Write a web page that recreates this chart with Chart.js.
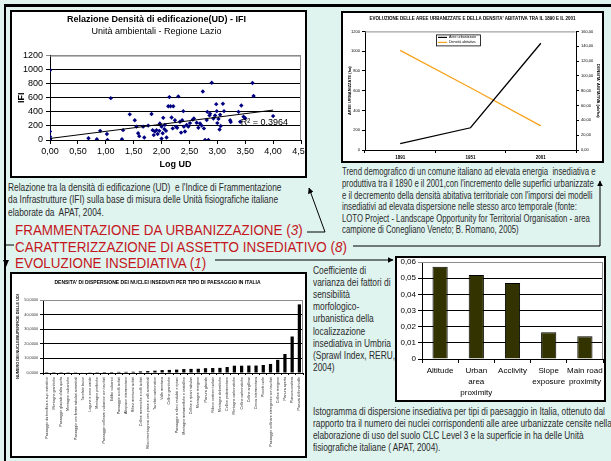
<!DOCTYPE html>
<html>
<head>
<meta charset="utf-8">
<script src="https://cdn.jsdelivr.net/npm/chart.js@4.4.1/dist/chart.umd.min.js"></script>
<style>
  html, body { margin: 0; padding: 0; }
  body {
    width: 611px; height: 461px; position: relative; overflow: hidden;
    background: #dff3ef;
    font-family: "Liberation Sans", Arial, sans-serif;
  }
  .box { position: absolute; background: #fff; border: 2px solid #000; box-sizing: border-box; }
  .box canvas { position: absolute; left: 0; top: 0; }
  .t {
    position: absolute; white-space: nowrap; color: #2b2b2b;
    font-size: 10.5px; line-height: 12px; height: 12px;
    transform-origin: 0 50%; transform: scaleX(0.795);
  }
  .t.s { font-size: 10px; transform: scaleX(0.775); }
  .t.c { font-size: 10.5px; transform: scaleX(0.8); }
  .t.b { font-size: 10.5px; transform: scaleX(0.79); }
  .h {
    position: absolute; white-space: nowrap; color: #c4161c;
    font-size: 15px; line-height: 16px; height: 16px;
    transform-origin: 0 50%; transform: scaleX(0.895);
  }
  svg { position: absolute; left: 0; top: 0; }
</style>
</head>
<body>

<!-- connectors and frame -->
<svg width="611" height="461">
  <defs>
    <marker id="ah" viewBox="0 0 10 10" refX="9" refY="5" markerWidth="6" markerHeight="6" orient="auto">
      <path d="M0,0 L10,5 L0,10 z" fill="#000"/>
    </marker>
  </defs>
  <rect x="5" y="4" width="606" height="3" fill="#000"/>
  <rect x="4" y="4" width="2" height="457" fill="#000"/>
  <line x1="5" y1="245" x2="14" y2="245" stroke="#000" stroke-width="1"/>
  <polygon points="3,260 9,260 6,267" fill="#000"/>
  <polyline points="307,232 325,232 309,188" fill="none" stroke="#000" stroke-width="1" marker-end="url(#ah)"/>
  <polyline points="353,246 600,246 600,181" fill="none" stroke="#000" stroke-width="1" marker-end="url(#ah)"/>
  <line x1="215" y1="260" x2="393" y2="260" stroke="#000" stroke-width="1" marker-end="url(#ah)"/>
</svg>

<div class="box" style="left:10px;top:10px;width:297px;height:168px;"><canvas id="cScatter" width="293" height="164"></canvas></div>
<div class="box" style="left:341px;top:11px;width:263px;height:152px;"><canvas id="cTrend" width="259" height="148"></canvas></div>
<div class="box" style="left:10px;top:272px;width:297px;height:186px;"><canvas id="cDisp" width="293" height="182"></canvas></div>
<div class="box" style="left:395px;top:256px;width:211px;height:146px;"><canvas id="cVar" width="207" height="142"></canvas></div>

<div class="t" style="left:8px;top:181px;">Relazione tra la densità di edificazione (UD)&nbsp; e l'Indice di Frammentazione</div>
<div class="t" style="left:8px;top:193px;">da Infrastrutture (IFI) sulla base di misura delle Unità fisiografiche italiane</div>
<div class="t" style="left:8px;top:206px;">elaborate da&nbsp; APAT, 2004.</div>

<div class="t s" style="left:342px;top:166px;">Trend demografico di un comune italiano ad elevata energia&nbsp; insediativa e</div>
<div class="t s" style="left:342px;top:178px;">produttiva tra il 1890 e il 2001,con l'incremento delle superfici urbanizzate</div>
<div class="t s" style="left:342px;top:190px;">e il decremento della densità abitativa territoriale con l'imporsi dei modelli</div>
<div class="t s" style="left:342px;top:201px;">insediativi ad elevata dispersione nelle stesso arco temporale (fonte:</div>
<div class="t s" style="left:342px;top:213px;">LOTO Project - Landscape Opportunity for Territorial Organisation - area</div>
<div class="t s" style="left:342px;top:224px;">campione di Conegliano Veneto; B. Romano, 2005)</div>

<div class="h" style="left:15px;top:222px;">FRAMMENTAZIONE DA URBANIZZAZIONE (<i>3</i>)</div>
<div class="h" style="left:15px;top:239px;">CARATTERIZZAZIONE DI ASSETTO INSEDIATIVO (<i>8</i>)</div>
<div class="h" style="left:15px;top:255px;">EVOLUZIONE INSEDIATIVA (<i>1</i>)</div>

<div class="t c" style="left:313px;top:264px;">Coefficiente di</div>
<div class="t c" style="left:313px;top:276px;">varianza dei fattori di</div>
<div class="t c" style="left:313px;top:288px;">sensibilità</div>
<div class="t c" style="left:313px;top:300px;">morfologico-</div>
<div class="t c" style="left:313px;top:312px;">urbanistica della</div>
<div class="t c" style="left:313px;top:325px;">localizzazione</div>
<div class="t c" style="left:313px;top:337px;">insediativa in Umbria</div>
<div class="t c" style="left:313px;top:349px;">(Sprawl Index, RERU,</div>
<div class="t c" style="left:313px;top:361px;">2004)</div>

<div class="t b" style="left:313px;top:405px;">Istogramma di dispersione insediativa per tipi di paesaggio in Italia, ottenuto dal</div>
<div class="t b" style="left:313px;top:417px;">rapporto tra il numero dei nuclei corrispondenti alle aree urbanizzate censite nella</div>
<div class="t b" style="left:313px;top:429px;">elaborazione di uso del suolo CLC Level 3 e la superficie in ha delle Unità</div>
<div class="t b" style="left:313px;top:441px;">fisiografiche italiane ( APAT, 2004).</div>

<script>
// ---- Relazione UD - IFI (Lazio) ----
const logUD = [0.00, 0.00, 0.00, 0.00, 0.00, 0.00, 0.00, 0.69, 0.84, 0.90, 1.02, 1.03, 1.09, 1.29, 1.31,
  1.43, 1.52, 1.55, 1.58, 1.60, 1.67, 1.69, 1.76, 1.82, 1.84, 1.86, 1.88, 1.91, 1.93, 1.96,
  1.97, 2.00, 2.00, 2.02, 2.03, 2.05, 2.06, 2.08, 2.09, 2.12, 2.14, 2.16, 2.18, 2.20, 2.21,
  2.24, 2.26, 2.28, 2.30, 2.33, 2.35, 2.37, 2.39, 2.40, 2.42, 2.45, 2.48, 2.51, 2.56, 2.58,
  2.63, 2.66, 2.69, 2.72, 2.74, 2.76, 2.78, 2.81, 2.82, 2.84, 2.86, 2.87, 2.90, 2.93, 2.96,
  2.98, 2.99, 3.00, 3.02, 3.04, 3.05, 3.06, 3.10, 3.12, 3.23, 3.24, 3.38, 3.41, 3.43, 3.47,
  3.50, 3.63, 3.65, 4.00];
const ifi = [990, 120, 48, 24, 8, 0, 0, 24, 10, 130, 85, 0, 595, 10, 140,
  365, 280, 190, 95, 55, 190, 35, 205, 370, 140, 70, 120, 140, 85, 130,
  235, 20, 190, 95, 315, 155, 215, 130, 35, 480, 610, 480, 320, 165, 480,
  280, 190, 175, 620, 260, 105, 280, 410, 190, 120, 215, 190, 240, 290, 305,
  245, 175, 235, 205, 690, 165, 0, 285, 400, 0, 350, 375, 815, 305, 350,
  510, 410, 240, 300, 150, 360, 200, 515, 410, 280, 255, 400, 260, 490, 330,
  310, 810, 625, 340];
const trendUD = [0, 4];
const trendIFI = [22, 425];
const r2Text = 'R² = 0.3964';

// ---- Evoluzione aree urbanizzate / densità abitativa ----
const anni = ['1891', '1951', '2001'];
const areeUrbanizzate = [65, 225, 1080];
const densitaAbitativa = [134.5, 84.0, 32.5];

// ---- Densità di dispersione per tipo di paesaggio ----
const paesaggi = [
  'Paesaggio da bonifica e sup. estrattive', 'Montagne granitiche', "Paesaggio glaciale d'alta quota",
  'Montagne vulcaniche', 'Paesaggio con forme tabulari sommitali', 'Tavolato lavico',
  'Lagune e zone umide', 'Montagne porfiriche', 'Paesaggio collinare vulcanico con tavolati',
  'Edifici vulcanici', 'Paesaggio a colli isolati', 'Altopiano intermontano',
  'Rilievi montuosi isolati', 'Colline moreniche e colli isolati', 'Rilievi montagnosi con piane e valli sommitali',
  'Tavolato carbonatico', 'Valle montana', 'Colline granitiche',
  'Paesaggio a rilievi ondulati e ripiani', 'Montagne metamorfiche e cristalline', 'Colline e ripiani tabulari',
  'Montagne terrigene', 'Pianura glaciale', 'Rilievo costiero isolato',
  'Montagne dolomitiche', 'Colline pedemontane', 'Montagne carbonatiche',
  'Colline carbonatiche', 'Colline argillose', 'Conca intermontana',
  'Piccole isole', 'Paesaggio collinare eterogeneo con tavolati', 'Colline terrigene',
  'Pianura aperta', 'Pianura costiera', 'Pianura di fondovalle'
];
const densitaNuclei = [0.05, 0.08, 0.10, 0.12, 0.15, 0.30, 0.50, 0.60, 0.65, 0.70, 0.75, 0.80,
  0.85, 1.10, 1.30, 1.60, 2.00, 2.10, 2.30, 2.70, 2.80, 2.90, 3.30, 3.40,
  3.50, 4.10, 5.00, 5.00, 5.10, 5.10, 5.50, 6.20, 9.00, 13.00, 25.00, 47.00];

// ---- Coefficiente di varianza (Umbria) ----
const fattori = ['Altitude', ['Urban', 'area', 'proximity'], 'Acclivity', ['Slope', 'exposure'], ['Main road', 'proximity']];
const coeffVarianza = [0.057, 0.052, 0.047, 0.0165, 0.014];

Chart.defaults.font.family = "'Liberation Sans', Arial, sans-serif";
Chart.defaults.color = '#000';
Chart.defaults.animation = false;

const comma = (v, d) => Number(v).toFixed(d).replace('.', ',');

// thin gray frame along the top (and optionally right) edge of the plot area
const plotFrame = {
  id: 'plotFrame',
  beforeDatasetsDraw(chart) {
    const a = chart.chartArea, ctx = chart.ctx;
    ctx.save();
    ctx.strokeStyle = '#8c8c8c';
    ctx.lineWidth = 1;
    ctx.beginPath();
    ctx.moveTo(a.left, a.top + 0.5);
    ctx.lineTo(a.right - 0.5, a.top + 0.5);
    if (chart.config.options.plugins.plotFrame && chart.config.options.plugins.plotFrame.right) {
      ctx.lineTo(a.right - 0.5, a.bottom);
    }
    ctx.stroke();
    ctx.restore();
  }
};

// ---- scatter chart ----
new Chart(document.getElementById('cScatter'), {
  type: 'scatter',
  data: {
    datasets: [
      {
        type: 'line',
        data: trendUD.map((x, i) => ({ x, y: trendIFI[i] })),
        borderColor: '#000', borderWidth: 1, pointRadius: 0, fill: false, order: 0
      },
      {
        data: logUD.map((x, i) => ({ x, y: ifi[i] })),
        backgroundColor: '#000080', borderColor: '#000080', borderWidth: 0,
        pointStyle: 'rectRot', pointRadius: 2.2, order: 1
      }
    ]
  },
  options: {
    responsive: false, devicePixelRatio: 1,
    layout: { padding: { left: 0, right: 4, top: 0, bottom: 0 } },
    plugins: {
      legend: { display: false }, tooltip: { enabled: false },
      plotFrame: { right: true },
      title: { display: true, text: 'Relazione Densità di edificazione(UD) - IFI',
        font: { size: 9, weight: 'bold' }, color: '#000', padding: { top: 2, bottom: 1 } },
      subtitle: { display: true, text: 'Unità ambientali - Regione Lazio',
        font: { size: 9 }, color: '#000', padding: { top: 0, bottom: 19 } }
    },
    scales: {
      x: {
        type: 'linear', min: 0, max: 4.5,
        ticks: { stepSize: 0.5, callback: v => comma(v, 2), font: { size: 9 }, padding: 2, maxRotation: 0, autoSkip: false },
        grid: { drawOnChartArea: false, color: '#000', tickLength: 4 },
        border: { color: '#000' },
        title: { display: true, text: 'Log UD', font: { size: 9, weight: 'bold' }, padding: { top: 0, bottom: 6 } },
        afterFit(s) { s.height = 36; s.paddingRight = 0; s.paddingLeft = 0; }
      },
      y: {
        min: 0, max: 1200,
        ticks: { stepSize: 200, font: { size: 9 }, padding: 3, callback: v => String(v) },
        grid: { color: ctx => ctx.tick && ctx.tick.value === 1200 ? '#8c8c8c' : '#000', tickLength: 4 },
        border: { color: '#000' },
        title: { display: true, text: 'IFI', font: { size: 9, weight: 'bold' }, padding: { top: 4, bottom: 0 } },
        afterFit(s) { s.width = 38; }
      }
    }
  },
  plugins: [plotFrame, {
    id: 'r2label',
    afterDatasetsDraw(chart) {
      const ctx = chart.ctx, xs = chart.scales.x, ys = chart.scales.y;
      ctx.save();
      ctx.font = "9px 'Liberation Sans', Arial, sans-serif";
      ctx.fillStyle = '#000';
      ctx.textBaseline = 'middle';
      ctx.fillText(r2Text, xs.getPixelForValue(3.42), ys.getPixelForValue(245));
      ctx.restore();
    }
  }]
});

// ---- dual-axis trend chart ----
const legendBox = {
  id: 'legendBox',
  afterDatasetsDraw(chart) {
    const ctx = chart.ctx, a = chart.chartArea;
    const x0 = a.left + 71, y0 = a.top + 3;
    ctx.save();
    ctx.font = "3.6px 'Liberation Sans', Arial, sans-serif";
    const sets = chart.data.datasets;
    const w = 44, h = 11;
    ctx.fillStyle = '#fff';
    ctx.fillRect(x0, y0, w, h);
    ctx.strokeStyle = '#000';
    ctx.lineWidth = 0.8;
    ctx.strokeRect(x0 + 0.5, y0 + 0.5, w, h);
    sets.forEach((ds, i) => {
      const yy = y0 + 3 + i * 5;
      ctx.strokeStyle = ds.borderColor;
      ctx.lineWidth = 1.2;
      ctx.beginPath(); ctx.moveTo(x0 + 2, yy); ctx.lineTo(x0 + 11, yy); ctx.stroke();
      ctx.fillStyle = '#000';
      ctx.textBaseline = 'middle';
      ctx.fillText(ds.label, x0 + 13, yy);
    });
    ctx.restore();
  }
};

new Chart(document.getElementById('cTrend'), {
  type: 'line',
  data: {
    labels: anni,
    datasets: [
      { label: 'Aree urbanizzate', data: areeUrbanizzate, yAxisID: 'y', borderColor: '#000',
        borderWidth: 1.3, pointRadius: 0, tension: 0 },
      { label: 'Densità abitativa', data: densitaAbitativa, yAxisID: 'y1', borderColor: '#f7a21b',
        borderWidth: 1.3, pointRadius: 0, tension: 0 }
    ]
  },
  options: {
    responsive: false, devicePixelRatio: 1,
    layout: { padding: 0 },
    plugins: {
      legend: { display: false }, tooltip: { enabled: false },
      plotFrame: { right: false },
      title: { display: true, text: "EVOLUZIONE DELLE AREE URBANIZZATE E DELLA DENSITA' ABITATIVA TRA IL 1890 E IL 2001",
        font: { size: 4.5, weight: 'bold' }, padding: { top: 3, bottom: 10 } }
    },
    scales: {
      x: {
        offset: true,
        ticks: { font: { size: 4.5, weight: 'bold' }, padding: 2, maxRotation: 0 },
        grid: { offset: true, drawOnChartArea: false, color: '#000', tickLength: 3 },
        border: { color: '#000' },
        afterFit(s) { s.height = 11; s.paddingLeft = 0; s.paddingRight = 0; }
      },
      y: {
        position: 'left', min: 0, max: 1200,
        ticks: { stepSize: 200, font: { size: 4 }, padding: 2, callback: v => String(v) },
        grid: { drawOnChartArea: false, color: '#000', tickLength: 3 },
        border: { color: '#000' },
        title: { display: true, text: 'AREE URBANIZZATE (ha)', font: { size: 4, weight: 'bold' }, padding: { top: 4.5, bottom: 0 } },
        afterFit(s) { s.width = 22; }
      },
      y1: {
        position: 'right', min: 0, max: 160,
        ticks: { stepSize: 20, font: { size: 4 }, padding: 2, callback: v => comma(v, 2) },
        grid: { drawOnChartArea: false, color: '#000', tickLength: 3 },
        border: { color: '#000' },
        title: { display: true, text: "DENSITA' ABITATIVA (ab/ha)", font: { size: 4, weight: 'bold' }, padding: { top: 1.6, bottom: 0 } },
        afterFit(s) { s.width = 26; }
      }
    }
  },
  plugins: [plotFrame, legendBox]
});

// ---- dispersion density by landscape type ----
new Chart(document.getElementById('cDisp'), {
  type: 'bar',
  data: {
    labels: paesaggi,
    datasets: [{ data: densitaNuclei, backgroundColor: '#000', borderWidth: 0,
      barPercentage: 0.45, categoryPercentage: 1 }]
  },
  options: {
    responsive: false, devicePixelRatio: 1,
    layout: { padding: { left: 0, right: 2, top: 0, bottom: 0 } },
    plugins: {
      legend: { display: false }, tooltip: { enabled: false },
      plotFrame: { right: true },
      title: { display: true, text: "DENSITA' DI DISPERSIONE DEI NUCLEI INSEDIATI PER TIPO DI PAESAGGIO IN ITALIA",
        font: { size: 5, weight: 'bold' }, padding: { top: 6, bottom: 14 } }
    },
    scales: {
      x: {
        ticks: { font: { size: 3.6 }, padding: 2, minRotation: 90, maxRotation: 90, autoSkip: false, color: '#222' },
        grid: { offset: true, drawOnChartArea: false, color: '#000', tickLength: 2 },
        border: { color: '#000' },
        afterFit(s) { s.height = 83; s.paddingLeft = 0; s.paddingRight = 0; }
      },
      y: {
        min: 0, max: 50,
        ticks: { stepSize: 5, font: { size: 3.8 }, padding: 2, callback: v => comma(v, 4), color: '#333' },
        grid: { color: ctx => ctx.tick && ctx.tick.value === 50 ? '#8c8c8c' : '#000', tickLength: 3 },
        border: { color: '#000' },
        title: { display: true, text: 'NUMERO DEI NUCLEI/SUPERFICIE DELLE UDI', font: { size: 3.8, weight: 'bold' }, padding: { top: 3.5, bottom: 0 } },
        afterFit(s) { s.width = 31; }
      }
    }
  },
  plugins: [plotFrame]
});

// ---- coefficient of variance, Umbria ----
new Chart(document.getElementById('cVar'), {
  type: 'bar',
  data: {
    labels: fattori,
    datasets: [{ data: coeffVarianza, backgroundColor: '#333300', borderColor: '#000', borderWidth: 1,
      barPercentage: 0.42, categoryPercentage: 1 }]
  },
  options: {
    responsive: false, devicePixelRatio: 1,
    layout: { padding: { left: 0, right: 1, top: 4, bottom: 0 } },
    plugins: { legend: { display: false }, tooltip: { enabled: false }, plotFrame: { right: true } },
    scales: {
      x: {
        ticks: { font: { size: 8, lineHeight: 1.4 }, padding: 2, maxRotation: 0, autoSkip: false },
        grid: { offset: true, drawOnChartArea: false, color: '#000', tickLength: 4 },
        border: { color: '#000' },
        afterFit(s) { s.height = 41; s.paddingLeft = 0; s.paddingRight = 0; }
      },
      y: {
        min: 0, max: 0.06,
        ticks: { stepSize: 0.01, font: { size: 8 }, padding: 2, callback: v => v === 0 ? '0' : comma(v, 2) },
        grid: { color: ctx => ctx.tick && Math.abs(ctx.tick.value - 0.06) < 1e-9 ? '#8c8c8c' : '#000', tickLength: 4 },
        border: { color: '#000' },
        afterFit(s) { s.width = 25; s.paddingTop = 0; }
      }
    }
  },
  plugins: [plotFrame]
});
</script>
</body>
</html>
